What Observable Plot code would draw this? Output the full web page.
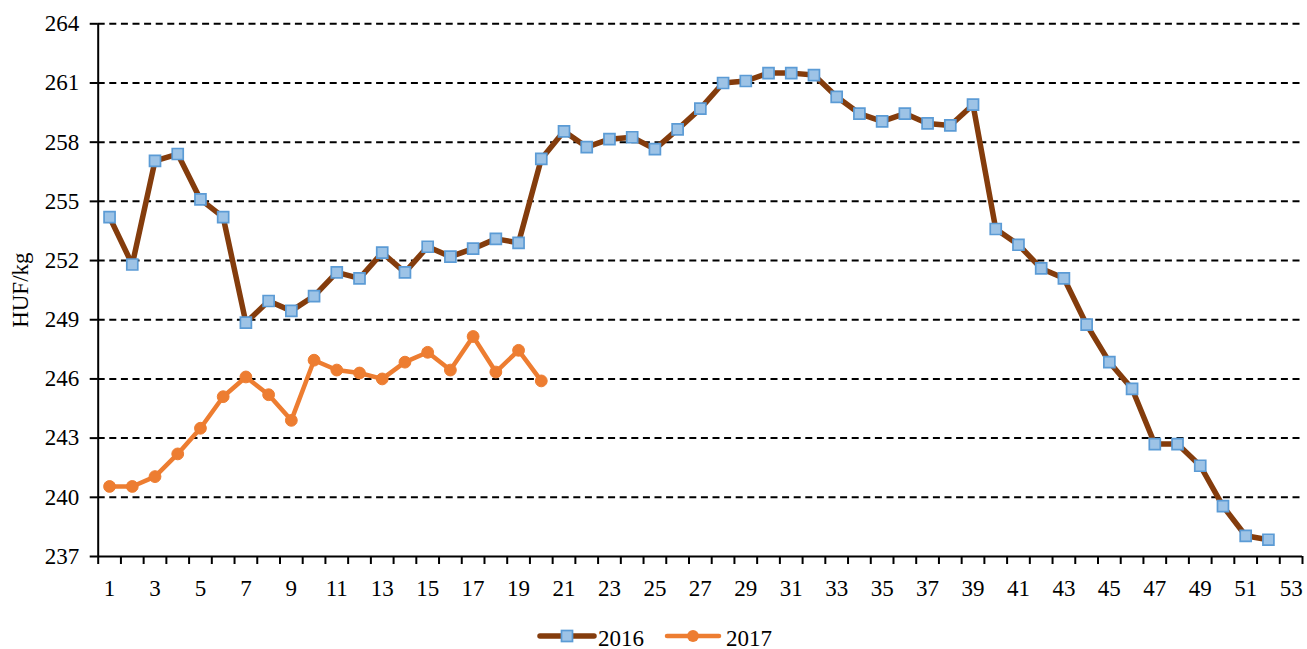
<!DOCTYPE html>
<html><head><meta charset="utf-8">
<script src="https://cdn.jsdelivr.net/npm/d3@7"></script>
<script src="https://cdn.jsdelivr.net/npm/@observablehq/plot@0.6"></script>
<style>
html,body{margin:0;padding:0;background:#fff;}
#chart{width:1307px;height:649px;position:relative;overflow:hidden;}
#chart svg{display:block;}
</style></head><body><div id="chart"></div>
<script>
const weeks2016 = [1,2,3,4,5,6,7,8,9,10,11,12,13,14,15,16,17,18,19,20,21,22,23,24,25,26,27,28,29,30,31,32,33,34,35,36,37,38,39,40,41,42,43,44,45,46,47,48,49,50,51,52];
const price2016 = [254.2, 251.8, 257.05, 257.4, 255.1, 254.2, 248.85, 249.95, 249.45, 250.2,
  251.4, 251.1, 252.4, 251.4, 252.7, 252.2, 252.6, 253.1, 252.9, 257.15,
  258.55, 257.75, 258.15, 258.25, 257.65, 258.65, 259.7, 261.0, 261.1, 261.5,
  261.5, 261.4, 260.3, 259.45, 259.05, 259.45, 258.95, 258.85, 259.9, 253.6,
  252.8, 251.6, 251.1, 248.75, 246.85, 245.5, 242.7, 242.7, 241.6, 239.55,
  238.05, 237.85];
const weeks2017 = [1,2,3,4,5,6,7,8,9,10,11,12,13,14,15,16,17,18,19,20];
const price2017 = [240.55, 240.55, 241.05, 242.2, 243.5, 245.1, 246.1, 245.2, 243.9, 246.95,
  246.45, 246.3, 246.0, 246.85, 247.35, 246.45, 248.15, 246.35, 247.45, 245.9];
const xCategories = [1,2,3,4,5,6,7,8,9,10,11,12,13,14,15,16,17,18,19,20,21,22,23,24,25,26,27,28,29,30,31,32,33,34,35,36,37,38,39,40,41,42,43,44,45,46,47,48,49,50,51,52,53];
const xTickLabels = [1,3,5,7,9,11,13,15,17,19,21,23,25,27,29,31,33,35,37,39,41,43,45,47,49,51,53];
const yTicks = [237,240,243,246,249,252,255,258,261,264];
const seriesNames = ["2016", "2017"];
const yLabel = "HUF/kg";

const C16 = "#843C0C", C16fill = "#9DC3E6", C16edge = "#5B9BD5", C17 = "#ED7D31";
const FONT = "'Liberation Serif', 'Times New Roman', serif";

const rows2016 = weeks2016.map((w, i) => ({week: w, price: price2016[i]}));
const rows2017 = weeks2017.map((w, i) => ({week: w, price: price2017[i]}));
const boundaries = xCategories.map(d => d - 0.5).concat([xCategories[xCategories.length - 1] + 0.5]);

const plot = Plot.plot({
  width: 1307, height: 610,
  marginLeft: 97.7, marginRight: 5, marginTop: 23.3, marginBottom: 54,
  style: {fontFamily: FONT, fontSize: "23px", background: "white", color: "black", overflow: "visible"},
  x: {type: "linear", domain: [boundaries[0], boundaries[boundaries.length - 1]], axis: null},
  y: {domain: [yTicks[0], yTicks[yTicks.length - 1]], axis: null},
  marks: [
    Plot.gridY({ticks: yTicks.slice(1), stroke: "black", strokeOpacity: 1, strokeWidth: 2, strokeDasharray: "7,4.6"}),
    Plot.ruleY([yTicks[0]], {stroke: "black", strokeWidth: 2}),
    Plot.ruleX([boundaries[0]], {stroke: "black", strokeWidth: 2}),
    Plot.axisY({ticks: yTicks, tickSize: 8, tickPadding: 11, strokeWidth: 2, label: null}),
    Plot.axisX({ticks: boundaries, tickSize: 8, tickFormat: () => "", strokeWidth: 2, label: null}),
    Plot.axisX({ticks: xTickLabels, tickSize: 0, tickPadding: 23, label: null}),
    Plot.text([yLabel], {text: d => d, frameAnchor: "left", rotate: -90, dx: -78, lineAnchor: "middle", textAnchor: "middle"}),
    Plot.line(rows2016, {x: "week", y: "price", stroke: C16, strokeWidth: 5.5, strokeLinejoin: "round", strokeLinecap: "round"}),
    Plot.dot(rows2016, {x: "week", y: "price", symbol: "square", r: 6.2, fill: C16fill, stroke: C16edge, strokeWidth: 1.7}),
    Plot.line(rows2017, {x: "week", y: "price", stroke: C17, strokeWidth: 4.5, strokeLinejoin: "round", strokeLinecap: "round"}),
    Plot.dot(rows2017, {x: "week", y: "price", r: 5.9, fill: C17, stroke: C17, strokeWidth: 1})
  ]
});
document.getElementById("chart").appendChild(plot);

// legend below the chart
const leg = d3.create("svg").attr("width", 1307).attr("height", 39)
  .style("font-family", FONT).style("font-size", "23px");
const cy = 26, base = 35.5;
const g1 = leg.append("g");
g1.append("line").attr("x1", 540).attr("x2", 594).attr("y1", cy).attr("y2", cy)
  .attr("stroke", C16).attr("stroke-width", 5.5).attr("stroke-linecap", "round");
g1.append("rect").attr("x", 567 - 5.5).attr("y", cy - 5.5).attr("width", 11).attr("height", 11)
  .attr("fill", C16fill).attr("stroke", C16edge).attr("stroke-width", 1.7);
g1.append("text").attr("x", 598).attr("y", base).text(seriesNames[0]);
const g2 = leg.append("g");
g2.append("line").attr("x1", 667).attr("x2", 719).attr("y1", cy).attr("y2", cy)
  .attr("stroke", C17).attr("stroke-width", 4.5).attr("stroke-linecap", "round");
g2.append("circle").attr("cx", 693).attr("cy", cy).attr("r", 5.9).attr("fill", C17);
g2.append("text").attr("x", 726).attr("y", base).text(seriesNames[1]);
document.getElementById("chart").appendChild(leg.node());
</script></body></html>
